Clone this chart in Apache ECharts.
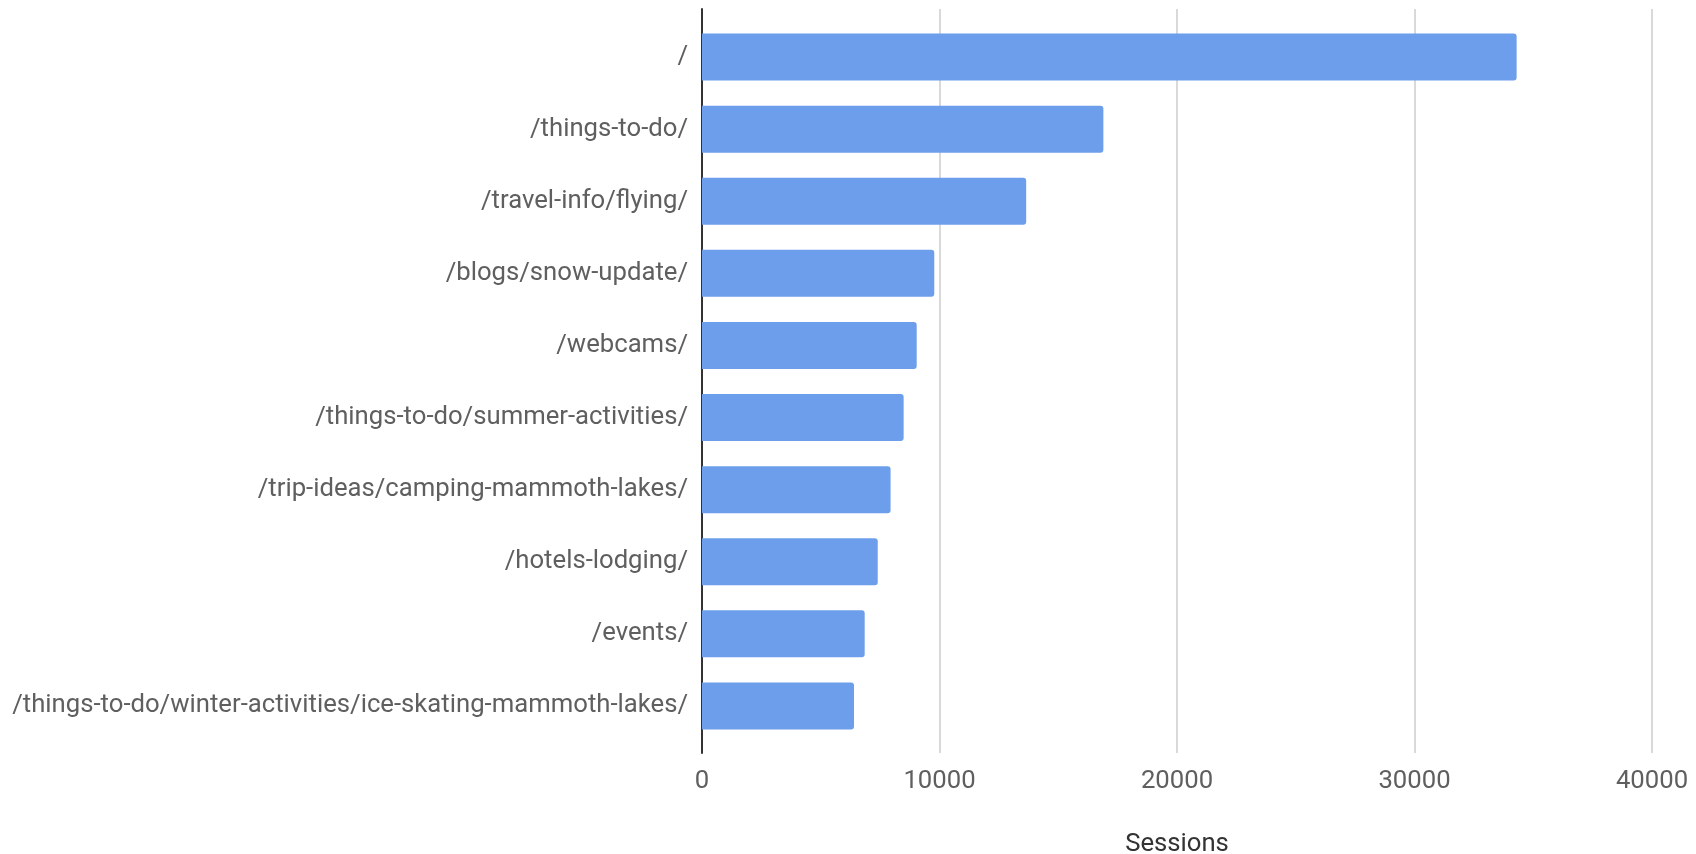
<!DOCTYPE html>
<html>
<head>
<meta charset="utf-8">
<script src="https://cdn.jsdelivr.net/npm/echarts@6/dist/echarts.min.js"></script>
<style>
  html, body { margin: 0; padding: 0; background: #fff; }
  #chart { width: 1696px; height: 854px; }
</style>
</head>
<body>
<div id="chart"></div>
<script>
// Top landing pages by sessions
const pages = [
  '/',
  '/things-to-do/',
  '/travel-info/flying/',
  '/blogs/snow-update/',
  '/webcams/',
  '/things-to-do/summer-activities/',
  '/trip-ideas/camping-mammoth-lakes/',
  '/hotels-lodging/',
  '/events/',
  '/things-to-do/winter-activities/ice-skating-mammoth-lakes/'
];
const sessions = [34300, 16900, 13650, 9780, 9040, 8490, 7940, 7400, 6850, 6400];
const axisMin = 0;
const axisMax = 40000;
const axisStep = 10000;
const axisTitle = 'Sessions';

const textColor = '#5f5f5f';
const fontFamily = 'Roboto, "Noto Sans", sans-serif';
const fontSize = 25.7;

const chart = echarts.init(document.getElementById('chart'));
chart.setOption({
  animation: false,
  backgroundColor: '#ffffff',
  grid: [
    // bars and category labels
    { left: 702, right: 44, top: 21, bottom: 112, outerBoundsMode: 'none' },
    // frame: value gridlines, baseline and ticks, slightly taller than the bars' band
    { left: 702, right: 44, top: 9, bottom: 101, outerBoundsMode: 'none' }
  ],
  xAxis: [
    {
      gridIndex: 0, type: 'value', min: axisMin, max: axisMax, interval: axisStep,
      axisLine: { show: false }, axisTick: { show: false },
      axisLabel: { show: false }, splitLine: { show: false }
    },
    {
      gridIndex: 1, type: 'value', min: axisMin, max: axisMax, interval: axisStep,
      axisLine: { show: false }, axisTick: { show: false },
      axisLabel: {
        color: textColor, fontSize: fontSize, fontFamily: fontFamily, margin: 16,
        formatter: (v) => String(v)
      },
      splitLine: { show: true, lineStyle: { color: '#cccccc', width: 1.5 } },
      name: axisTitle, nameLocation: 'middle', nameGap: 79,
      nameTextStyle: { color: '#333333', fontSize: fontSize, fontFamily: fontFamily }
    }
  ],
  yAxis: [
    {
      gridIndex: 0, type: 'category', data: pages, inverse: true,
      axisLine: { show: false }, axisTick: { show: false },
      axisLabel: { color: textColor, fontSize: fontSize, fontFamily: fontFamily, margin: 14 },
      splitLine: { show: false }
    },
    {
      gridIndex: 1, type: 'value', min: 0, max: 1,
      axisLine: { show: true, lineStyle: { color: '#333333', width: 2 } },
      axisTick: { show: false }, axisLabel: { show: false }, splitLine: { show: false }
    }
  ],
  series: [
    {
      type: 'bar',
      xAxisIndex: 0, yAxisIndex: 0,
      data: sessions,
      barWidth: 47,
      itemStyle: { color: '#6d9eeb', borderRadius: [0, 3, 3, 0] },
      z: 3
    }
  ]
});
</script>
</body>
</html>
